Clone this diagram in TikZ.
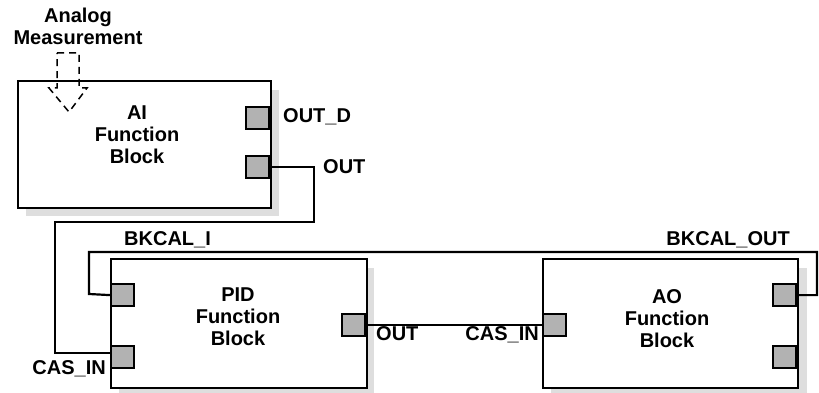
\documentclass[tikz,border=0pt]{standalone}
\usepackage{fontspec}
\setmainfont{Liberation Sans}
\begin{document}
\begin{tikzpicture}[x=1pt,y=-1pt,
  lbl/.style={font=\fontsize{20}{22}\selectfont\bfseries, inner sep=0pt},
  fblock/.style={draw=black, line width=2.2pt, fill=white},
  shadowbox/.style={fill=black!13, draw=none},
  port/.style={draw=black, line width=2.2pt, fill=black!30, minimum width=23pt, minimum height=22pt, inner sep=0pt},
  wire/.style={draw=black, line width=2.2pt}]
\useasboundingbox (0,0) rectangle (819,393);
% shadows
\fill[shadowbox] (26,90) rectangle (279,216);
\fill[shadowbox] (119,268) rectangle (374,397);
\fill[shadowbox] (551,268) rectangle (807,397);
% blocks
\node[fblock, minimum width=253pt, minimum height=127pt, inner sep=0pt, anchor=north west] (ai) at (17,80) {};
\node[fblock, minimum width=256pt, minimum height=129pt, inner sep=0pt, anchor=north west] (pid) at (110,258) {};
\node[fblock, minimum width=255pt, minimum height=129pt, inner sep=0pt, anchor=north west] (ao) at (542,258) {};
% block texts
\node[lbl, align=center] (aitxt) at (137,134.5) {AI\\Function\\Block};
\node[lbl, align=center] (pidtxt) at (238,317) {PID\\Function\\Block};
\node[lbl, align=center] (aotxt) at (667,319) {AO\\Function\\Block};
% ports
\node[port, anchor=north east] (aioutd) at (270,106) {};
\node[port, anchor=north east] (aiout) at (270,154.5) {};
\node[port, anchor=north west] (pidbk) at (110,283) {};
\node[port, anchor=north west] (pidcas) at (110,344.5) {};
\node[port, anchor=north east] (pidout) at (366,312.5) {};
\node[port, anchor=north west] (aocas) at (542,312.5) {};
\node[port, anchor=north east] (aobk) at (797,283) {};
\node[port, anchor=north east] (aoport2) at (797,344.5) {};
% corner coordinates
\coordinate (c1) at (314,222);
\coordinate (c2) at (55,353);
\coordinate (c3) at (817,252);
\coordinate (c4) at (89,294);
% connectors
\draw[wire] (aiout.east) -| (c1) -| (c2) -- (pidcas.west |- c2);
\draw[wire] (aobk.east) -| (c3) -| (c4) -- (pidbk.west);
\draw[wire] (pidout.east) -- (aocas.west);
% labels
\node[lbl, align=center] (analog) at (78,26) {Analog\\Measurement};
\node[lbl, anchor=base west] (loutd) at (283,123) {OUT\_D};
\node[lbl, anchor=base west] (lout) at (323,173) {OUT};
\node[lbl, anchor=base west] (lbki) at (124,245) {BKCAL\_I};
\node[lbl, anchor=base east] (lbko) at (790,245) {BKCAL\_OUT};
\node[lbl, anchor=base east] (lcas) at (106,374) {CAS\_IN};
\node[lbl, anchor=base west] (lpidout) at (376,340) {OUT};
\node[lbl, anchor=base east] (laocas) at (539,340) {CAS\_IN};
% dashed input arrow
\draw[black, line width=1.5pt, dash pattern=on 7pt off 5pt]
  (57,53) -- (79,53) -- (79,88) -- (87,88) -- (69,112) -- (49,88) -- (57,88) -- cycle;
\end{tikzpicture}
\end{document}
